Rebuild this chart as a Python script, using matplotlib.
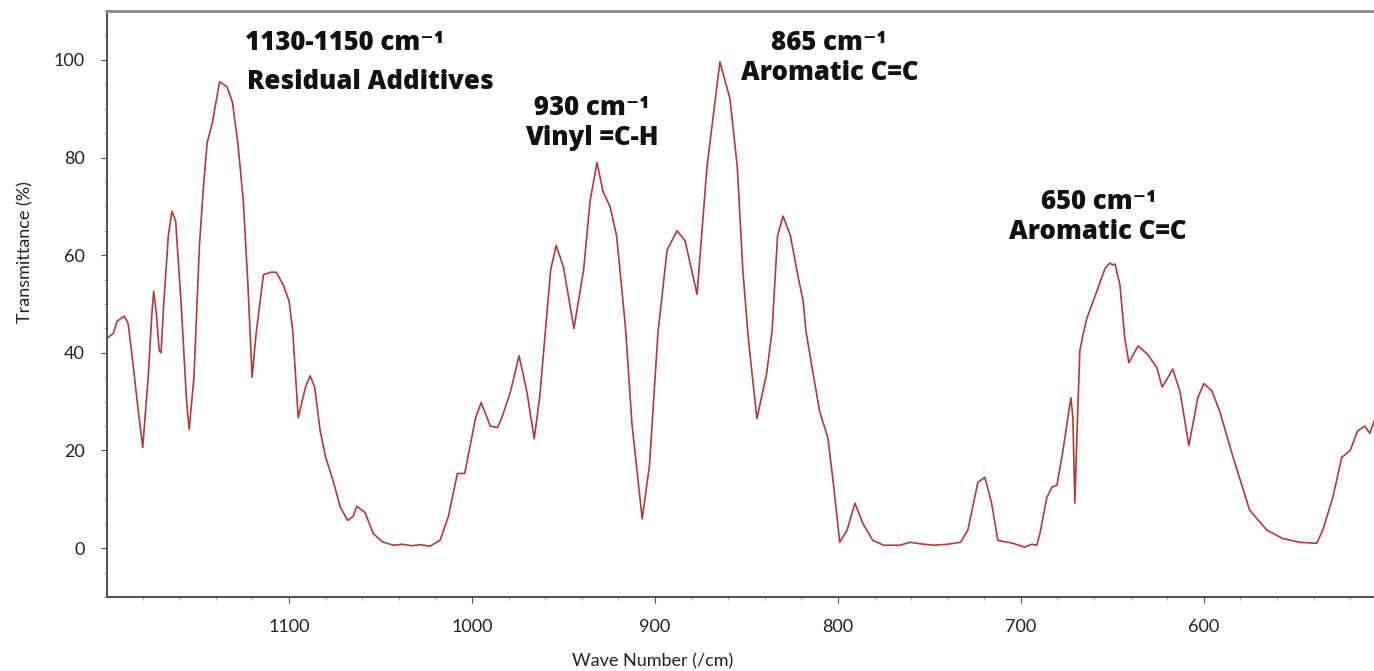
import matplotlib
matplotlib.use("Agg")
import matplotlib.pyplot as plt
from matplotlib.ticker import MultipleLocator

# wavenumber (cm-1) and transmittance (%)
wavenumber = [1199.5, 1196, 1194, 1190, 1188, 1186, 1183, 1180, 1177, 1175, 1174,
              1172.5, 1171, 1170, 1168.5, 1166, 1164, 1162, 1159, 1156, 1154.6,
              1152, 1149, 1147, 1144.8, 1142, 1138, 1134, 1131, 1128, 1125,
              1122.5, 1120.2, 1118, 1114, 1110, 1107, 1103.3, 1100, 1098, 1095,
              1091, 1088.5, 1086, 1083, 1080, 1076, 1072, 1068, 1065, 1063,
              1058.5, 1054, 1049, 1043, 1038, 1033, 1028, 1023, 1017.5, 1013,
              1008, 1004, 998, 995, 990, 986, 983, 979, 974.3, 970, 966, 963,
              960, 957, 954, 950, 944.3, 939, 935.5, 931.7, 928.4, 924.6, 921,
              917.5, 916, 912.6, 907, 903, 898.4, 893.4, 888, 883.6, 877, 871.6,
              864.5, 859, 855, 852, 849, 844.3, 839, 836, 833, 830, 826, 822,
              819, 817.5, 813.7, 810, 805.5, 802.7, 799, 795, 790.7, 786.3, 781,
              775, 766, 760.7, 755, 748, 740, 733, 729, 723.5, 719.7, 716, 712.6,
              704.4, 698, 694, 691.3, 689.6, 685.8, 683, 680.3, 677, 672.7,
              671.6, 670.5, 669.4, 667.8, 666, 664, 658.5, 654, 651.4, 650,
              648.6, 645.9, 643.2, 641, 636, 631, 625.7, 622.8, 620, 617, 613,
              608.2, 603.3, 600, 595.6, 591.3, 584, 575, 565.6, 557, 547.5,
              538.3, 535, 529.5, 524.6, 520, 516, 512, 509.3, 507]
transmittance = [43, 44, 46.5, 47.5, 46, 40, 30, 20.6, 35, 48, 52.6,
                 48, 40.5, 40, 50, 64, 69, 67, 50, 30, 24.3,
                 35, 62, 73, 83, 87, 95.5, 94.5, 91.4, 83, 71,
                 54, 35, 44, 56, 56.5, 56.5, 54, 50.6, 44.5, 26.7,
                 33, 35.3, 33, 24, 18.6, 13.9, 8.4, 5.7, 6.5, 8.6,
                 7.3, 3, 1.3, 0.6, 0.8, 0.5, 0.7, 0.4, 1.6, 6.4,
                 15.3, 15.3, 26.8, 29.8, 25, 24.7, 27.5, 32, 39.4, 32, 22.4, 31,
                 44, 57, 62, 57.5, 45, 57, 71, 79, 73, 70, 64,
                 50.6, 44.5, 25.5, 6, 17, 44, 61, 65, 63, 52, 78,
                 99.6, 92, 78, 57, 43, 26.5, 35.7, 44.5, 64, 68, 64, 56,
                 50.6, 44.5, 36, 28, 22.6, 13.9, 1.2, 3.7, 9.2, 5, 1.6,
                 0.6, 0.6, 1.2, 0.9, 0.6, 0.8, 1.2, 3.7, 13.5, 14.5, 9.2, 1.6,
                 1, 0.2, 0.8, 0.6, 3, 10.4, 12.5, 12.9, 20, 30.8,
                 26.8, 9.2, 22.7, 40.4, 43.8, 47, 52.6, 57.3, 58.4, 58,
                 58.2, 54, 43, 38, 41.4, 39.8, 37, 33, 34.7, 36.7, 32,
                 21, 30.8, 33.7, 32.2, 28, 18.6, 7.8, 3.7, 2, 1.2,
                 1, 3.7, 10.4, 18.6, 20, 24, 25, 23.5, 26]

# peak annotations
ann_x = [1124, 1123, 934.4, 934.4, 805, 804.4, 657.4, 658]
ann_y = [103.5, 95.5, 90.2, 83.9, 103.5, 97.3, 70.8, 64.7]
ann_text = ["1130-1150 cm⁻¹", "Residual Additives", "930 cm⁻¹", "Vinyl =C-H",
            "865 cm⁻¹", "Aromatic C=C", "650 cm⁻¹", "Aromatic C=C"]
ann_ha = ["left", "left", "center", "center", "center", "center", "center", "center"]

plt.rcParams['font.family'] = ['Lato', 'DejaVu Sans']

fig = plt.figure(figsize=(13.74, 6.71), dpi=100)
ax = fig.add_axes([0.0779, 0.1103, 0.9221, 0.8733])

ax.plot(wavenumber, transmittance, color='#b03a3a', lw=1.2)

ax.set_xlim(1199.5, 507)
ax.set_ylim(-10, 110)
ax.xaxis.set_major_locator(MultipleLocator(100))
ax.xaxis.set_minor_locator(MultipleLocator(20))
ax.yaxis.set_major_locator(MultipleLocator(20))
ax.yaxis.set_minor_locator(MultipleLocator(5))
ax.tick_params(which='major', length=4, color='#555555', labelsize=13,
               labelcolor='#222222', pad=12)
ax.tick_params(which='minor', length=2.5, color='#999999')

ax.spines['right'].set_visible(False)
ax.spines['top'].set_color('#888888')
ax.spines['top'].set_linewidth(2)
for s in ['left', 'bottom']:
    ax.spines[s].set_color('#555555')
    ax.spines[s].set_linewidth(1.5)

ax.set_xlabel("Wave Number (/cm)", fontsize=13, color='#222222')
ax.xaxis.set_label_coords(0.431, -0.096)
ax.xaxis.label.set_va('top')
ax.set_ylabel("Transmittance (%)", fontsize=13, color='#222222')
ax.yaxis.set_label_coords(-0.058, 0.589)

for x, y, t, ha in zip(ann_x, ann_y, ann_text, ann_ha):
    ax.text(x, y, t, ha=ha, va='center', fontsize=18.5, fontweight='heavy',
            family=['Open Sans', 'DejaVu Sans'], color='#111111')

fig.savefig("out.png", dpi=100)
